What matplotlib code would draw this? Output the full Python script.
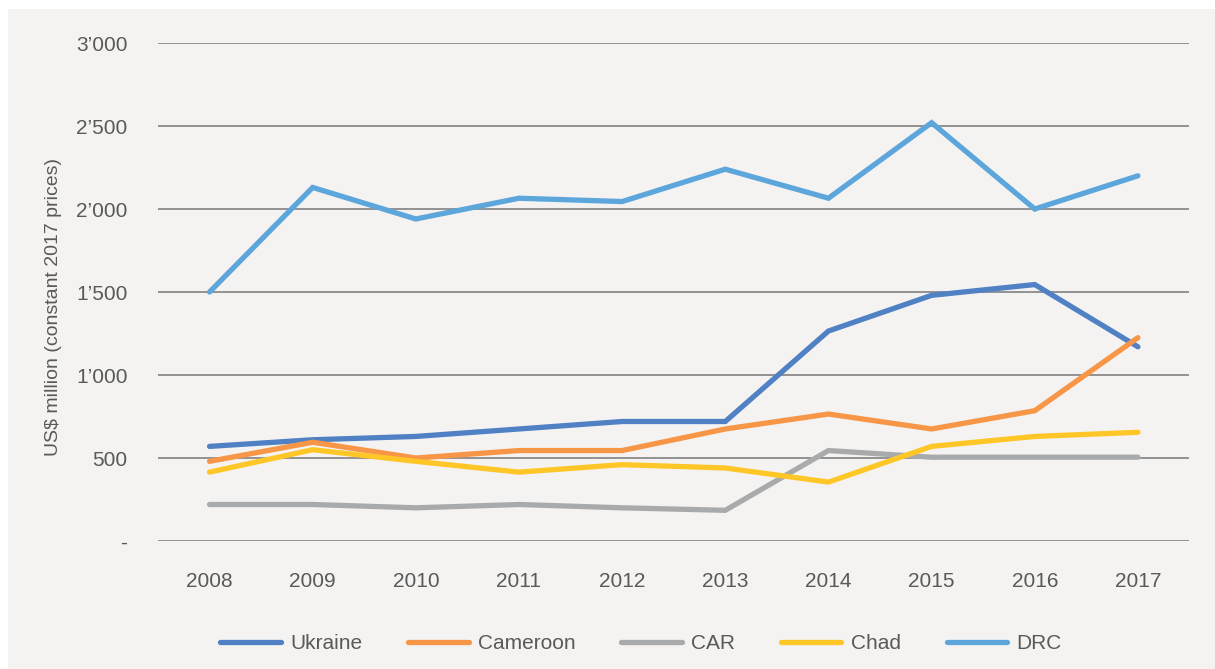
import matplotlib.pyplot as plt
from matplotlib.patches import Rectangle
from matplotlib.ticker import FuncFormatter

plt.rcParams['font.family'] = ['Liberation Sans', 'DejaVu Sans']

years = ['2008', '2009', '2010', '2011', '2012', '2013', '2014', '2015', '2016', '2017']

ukraine = [570, 610, 630, 675, 720, 720, 1265, 1480, 1545, 1170]
cameroon = [480, 595, 500, 545, 545, 675, 765, 675, 785, 1225]
car = [220, 220, 200, 220, 200, 185, 545, 505, 505, 505]
chad = [415, 550, 480, 415, 460, 440, 355, 570, 630, 655]
drc = [1500, 2130, 1940, 2065, 2045, 2240, 2065, 2520, 2000, 2200]

series = [
    ('Ukraine', ukraine, '#4f81c4'),
    ('Cameroon', cameroon, '#f79646'),
    ('CAR', car, '#a9aaac'),
    ('Chad', chad, '#ffc628'),
    ('DRC', drc, '#5ca6dc'),
]

bg = '#f4f3f1'
text_col = '#595959'

fig = plt.figure(figsize=(12.15, 6.69), dpi=100, facecolor='white')
fig.patches.append(Rectangle((8 / 1215, 0), 1, 1 - 9 / 669, transform=fig.transFigure,
                             facecolor=bg, edgecolor='none', zorder=-10))

ax = fig.add_axes([0.130, 0.1913, 0.849, 0.7444])
ax.set_facecolor(bg)

x = list(range(len(years)))
for name, vals, col in series:
    ax.plot(x, vals, color=col, lw=3.8, solid_capstyle='round', solid_joinstyle='miter',
            label=name, zorder=3)

ax.set_xlim(-0.5, len(years) - 0.5)
ax.set_ylim(0, 3000)
ax.set_yticks([0, 500, 1000, 1500, 2000, 2500, 3000])


def fmt(v, pos):
    v = int(round(v))
    if v == 0:
        return '-'
    if v >= 1000:
        return f"{v // 1000}\u2019{v % 1000:03d}"
    return str(v)


ax.yaxis.set_major_formatter(FuncFormatter(fmt))
ax.set_xticks(x)
ax.set_xticklabels(years)
ax.grid(axis='y', color='#8a8a8a', lw=1.3, zorder=1)
ax.set_axisbelow(True)
for s in ax.spines.values():
    s.set_visible(False)
ax.tick_params(length=0, labelsize=15, labelcolor=text_col)
ax.tick_params(axis='y', pad=22)
ax.tick_params(axis='x', pad=22)
ax.set_ylabel('US$ million (constant 2017 prices)', fontsize=14, color=text_col,
              labelpad=10, y=0.47)

fig.legend(loc='center', bbox_to_anchor=(0.5276, 0.038), ncol=5, frameon=False,
           fontsize=15, labelcolor=text_col, handlelength=2.9, columnspacing=2.2,
           handletextpad=0.45)

fig.savefig('out.png', dpi=100, facecolor=fig.get_facecolor())
